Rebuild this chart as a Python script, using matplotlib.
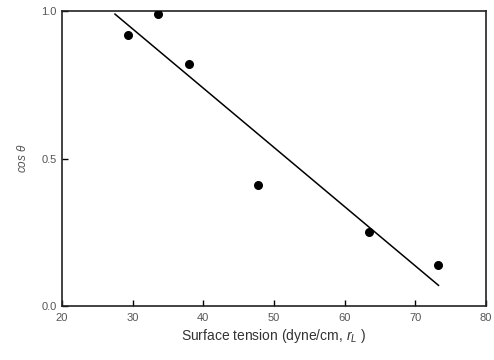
import matplotlib
matplotlib.use("Agg")
import matplotlib.pyplot as plt

surface_tension = [29.3, 33.6, 38.0, 47.8, 63.5, 73.2]
cos_theta = [0.92, 0.99, 0.82, 0.41, 0.25, 0.14]
fit_x = [27.5, 73.3]
fit_y = [0.99, 0.07]
x_ticks = [20, 30, 40, 50, 60, 70, 80]
y_ticks = [0.0, 0.5, 1.0]

plt.rcParams['font.family'] = ['Liberation Sans', 'DejaVu Sans']
plt.rcParams['mathtext.fontset'] = 'custom'
plt.rcParams['mathtext.it'] = 'Liberation Sans:italic'
plt.rcParams['mathtext.rm'] = 'Liberation Sans'
fig = plt.figure(figsize=(4.94, 3.6), dpi=100)
ax = fig.add_axes([0.1255, 0.15, 0.858, 0.819])
ax.plot(fit_x, fit_y, color='black', lw=1.1)
ax.scatter(surface_tension, cos_theta, s=30, color='black', zorder=3)
ax.set_xlim(20, 80)
ax.set_ylim(0, 1.0)
ax.set_xticks(x_ticks)
ax.set_yticks(y_ticks)
ax.set_yticklabels(['0.0', '0.5', '1.0'])
ax.tick_params(direction='in', length=4, width=1, labelsize=8, colors='black', labelcolor='#555555')
ax.tick_params(axis='x', pad=5)
ax.tick_params(axis='y', pad=4)
for s in ax.spines.values():
    s.set_linewidth(1.2)
    s.set_color('#222222')
ax.set_xlabel('Surface tension (dyne/cm, $\\mathit{r}_{\\mathit{L}}$ )', fontsize=10, color='#333333', labelpad=3)
ax.set_ylabel('cos $\\mathit{\\theta}$', fontsize=8.5, color='#555555', style='italic', labelpad=9)
fig.savefig('out.png', dpi=100)
